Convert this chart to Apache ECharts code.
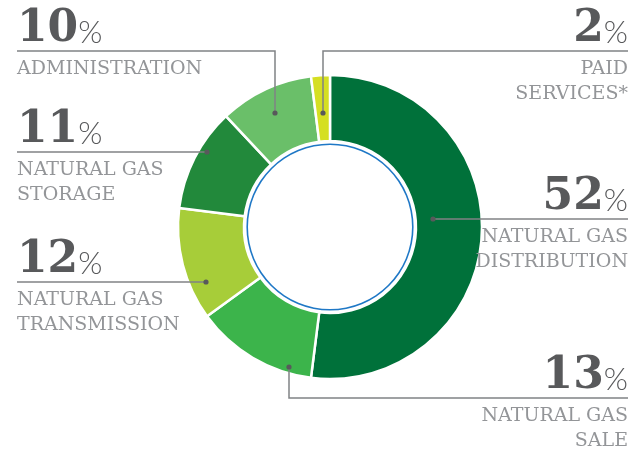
<!DOCTYPE html>
<html>
<head>
<meta charset="utf-8">
<script src="https://cdn.jsdelivr.net/npm/echarts@6/dist/echarts.min.js"></script>
<style>
  html, body { margin: 0; padding: 0; background: #fff; }
  #chart { width: 630px; height: 449px; }
</style>
</head>
<body>
<div id="chart"></div>
<script>
// Cost structure donut
const categories = [
  'NATURAL GAS\nDISTRIBUTION',
  'NATURAL GAS\nSALE',
  'NATURAL GAS\nTRANSMISSION',
  'NATURAL GAS\nSTORAGE',
  'ADMINISTRATION',
  'PAID\nSERVICES*'
];
const shares = [52, 13, 12, 11, 10, 2];
const sliceColors = ['#00713a', '#3cb44b', '#a7cd39', '#22893b', '#6abf69', '#d5df22'];

// label placement (leader line y, dot position, side)
const leaders = [
  { side: 'right', lineY: 219, dot: [433, 219] },
  { side: 'right', lineY: 398, dot: [289, 367] },
  { side: 'left',  lineY: 282, dot: [206, 282] },
  { side: 'left',  lineY: 152, dot: [207, 152] },
  { side: 'left',  lineY: 51,  dot: [275, 113] },
  { side: 'right', lineY: 51,  dot: [323, 113] }
];
const leftX = 17, rightX = 628;

const chart = echarts.init(document.getElementById('chart'));

const numStyle = { fontFamily: 'DejaVu Serif', fontWeight: 'bold', fontSize: 44, color: '#58595b', lineHeight: 53, verticalAlign: 'bottom', padding: [0, 0, 5, 0] };
const pctStyle = { fontFamily: 'Lato', fontWeight: 300, fontSize: 31, color: '#58595b', lineHeight: 53, verticalAlign: 'bottom', padding: [0, 0, 9, 0] };
const nameStyle = { fontFamily: 'DejaVu Serif', fontSize: 19, color: '#939598', lineHeight: 25 };
const rich = {
  numL: numStyle, pctL: pctStyle, nameL: nameStyle,
  numR: Object.assign({}, numStyle, { align: 'right' }),
  pctR: Object.assign({}, pctStyle, { align: 'right' }),
  nameR: Object.assign({}, nameStyle, { align: 'right' })
};

const data = shares.map((v, i) => ({
  value: v,
  name: categories[i],
  itemStyle: { color: sliceColors[i] }
}));

chart.setOption({
  backgroundColor: '#fff',
  animation: false,
  series: [
    {
      type: 'pie',
      center: [330, 227],
      radius: [86, 152],
      startAngle: 90,
      clockwise: true,
      silent: true,
      itemStyle: { borderColor: '#fff', borderWidth: 2.5 },
      label: {
        show: true,
        position: 'outside',
        overflow: 'none',
        formatter: p => {
          const s = leaders[p.dataIndex].side === 'left' ? 'L' : 'R';
          const names = p.name.split('\n').map(n => '{name' + s + '|' + n + '}').join('\n');
          return '{num' + s + '|' + p.value + '}{pct' + s + '|%}\n' + names;
        },
        rich: rich
      },
      labelLine: { show: false },
      labelLayout: p => {
        const l = leaders[p.dataIndex];
        return {
          x: l.side === 'left' ? leftX : rightX,
          y: l.lineY - 47,
          align: l.side,
          verticalAlign: 'top'
        };
      },
      data: data
    },
    {
      // thin blue ring inside the donut
      type: 'pie',
      center: [330, 227],
      radius: [82, 83.6],
      silent: true,
      label: { show: false },
      labelLine: { show: false },
      itemStyle: { color: '#1f78c6' },
      data: [{ value: 1, name: 'ring' }]
    }
  ],
  graphic: leaders.map(l => ({
    type: 'polyline',
    shape: { points: [l.dot, [l.dot[0], l.lineY], [l.side === 'left' ? leftX : rightX, l.lineY]] },
    style: { stroke: '#808285', lineWidth: 1.5, fill: null },
    z: 100
  })).concat(leaders.map(l => ({
    type: 'circle',
    shape: { cx: l.dot[0], cy: l.dot[1], r: 2.6 },
    style: { fill: '#58595b' },
    z: 101
  })))
});
</script>
</body>
</html>
